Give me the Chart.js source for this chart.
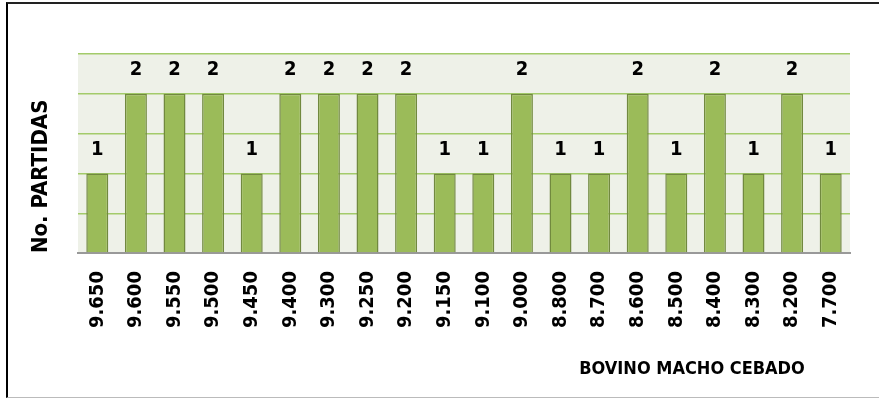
<!DOCTYPE html>
<html>
<head>
<meta charset="utf-8">
<script src="https://cdn.jsdelivr.net/npm/chart.js@4"></script>
<style>
    html, body { margin: 0; padding: 0; background: #fff; overflow: hidden; }
    #wrap { position: relative; width: 879px; height: 401px; overflow: hidden; }
    #frame {
        position: absolute; left: 6px; top: 2px; width: 900px; height: 396px;
        border-left: 2px solid #000; border-top: 2px solid #222; border-bottom: 1px solid #bbb;
        box-sizing: border-box; pointer-events: none;
    }
    canvas { position: absolute; left: 0; top: 0; }
</style>
</head>
<body>
<div id="wrap">
    <canvas id="chart" width="879" height="401"></canvas>
    <div id="frame"></div>
</div>
<script>
const FONT = "'DejaVu Sans Condensed', 'Liberation Sans', sans-serif";

const categories = ['9.650', '9.600', '9.550', '9.500', '9.450', '9.400', '9.300', '9.250', '9.200', '9.150',
    '9.100', '9.000', '8.800', '8.700', '8.600', '8.500', '8.400', '8.300', '8.200', '7.700'];
const partidas = [1, 2, 2, 2, 1, 2, 2, 2, 2, 1, 1, 2, 1, 1, 2, 1, 2, 1, 2, 1];
const yTitle = 'No. PARTIDAS';
const xTitle = 'BOVINO MACHO CEBADO';

// plot background, value labels and the x title (sits right of centre)
const extras = {
    id: 'extras',
    beforeDraw(chart) {
        const { ctx, chartArea: a } = chart;
        ctx.save();
        ctx.fillStyle = '#EEF1E8';
        ctx.fillRect(a.left, a.top, a.right - a.left, a.bottom - a.top);
        ctx.restore();
    },
    afterDraw(chart) {
        const { ctx, chartArea: a } = chart;
        ctx.save();
        ctx.fillStyle = '#000';
        ctx.textAlign = 'center';
        ctx.textBaseline = 'middle';
        ctx.font = 'bold 20px ' + FONT;
        chart.getDatasetMeta(0).data.forEach((bar, i) => {
            ctx.fillText(partidas[i], bar.x, bar.y - 24);
        });
        ctx.font = 'bold 18px ' + FONT;
        ctx.fillText(xTitle, a.right - 158, 369);
        ctx.restore();
    }
};

new Chart(document.getElementById('chart'), {
    type: 'bar',
    data: {
        labels: categories,
        datasets: [{
            data: partidas,
            backgroundColor: '#9BBB59',
            borderColor: '#71893F',
            borderWidth: 1.5,
            categoryPercentage: 1,
            barPercentage: 0.57,
        }]
    },
    options: {
        responsive: false,
        animation: false,
        layout: { padding: { left: 28, right: 29, top: 54, bottom: 63 } },
        plugins: { legend: { display: false }, tooltip: { enabled: false } },
        scales: {
            x: {
                grid: { display: false },
                border: { color: '#999', width: 2 },
                ticks: {
                    color: '#000', minRotation: 90, maxRotation: 90, padding: 10,
                    font: { family: FONT, size: 20, weight: 'bold' }
                }
            },
            y: {
                min: 0, max: 2.5,
                ticks: { display: false, stepSize: 0.5 },
                grid: { color: '#A3CB6A', lineWidth: 1.5, drawTicks: false },
                border: { display: false },
                title: {
                    display: true, text: yTitle, align: 'start', color: '#000',
                    font: { family: FONT, size: 22, weight: 'bold' }, padding: { top: 0, bottom: 0 }
                },
                afterFit(scale) { scale.width = 50; }
            }
        }
    },
    plugins: [extras]
});
</script>
</body>
</html>
